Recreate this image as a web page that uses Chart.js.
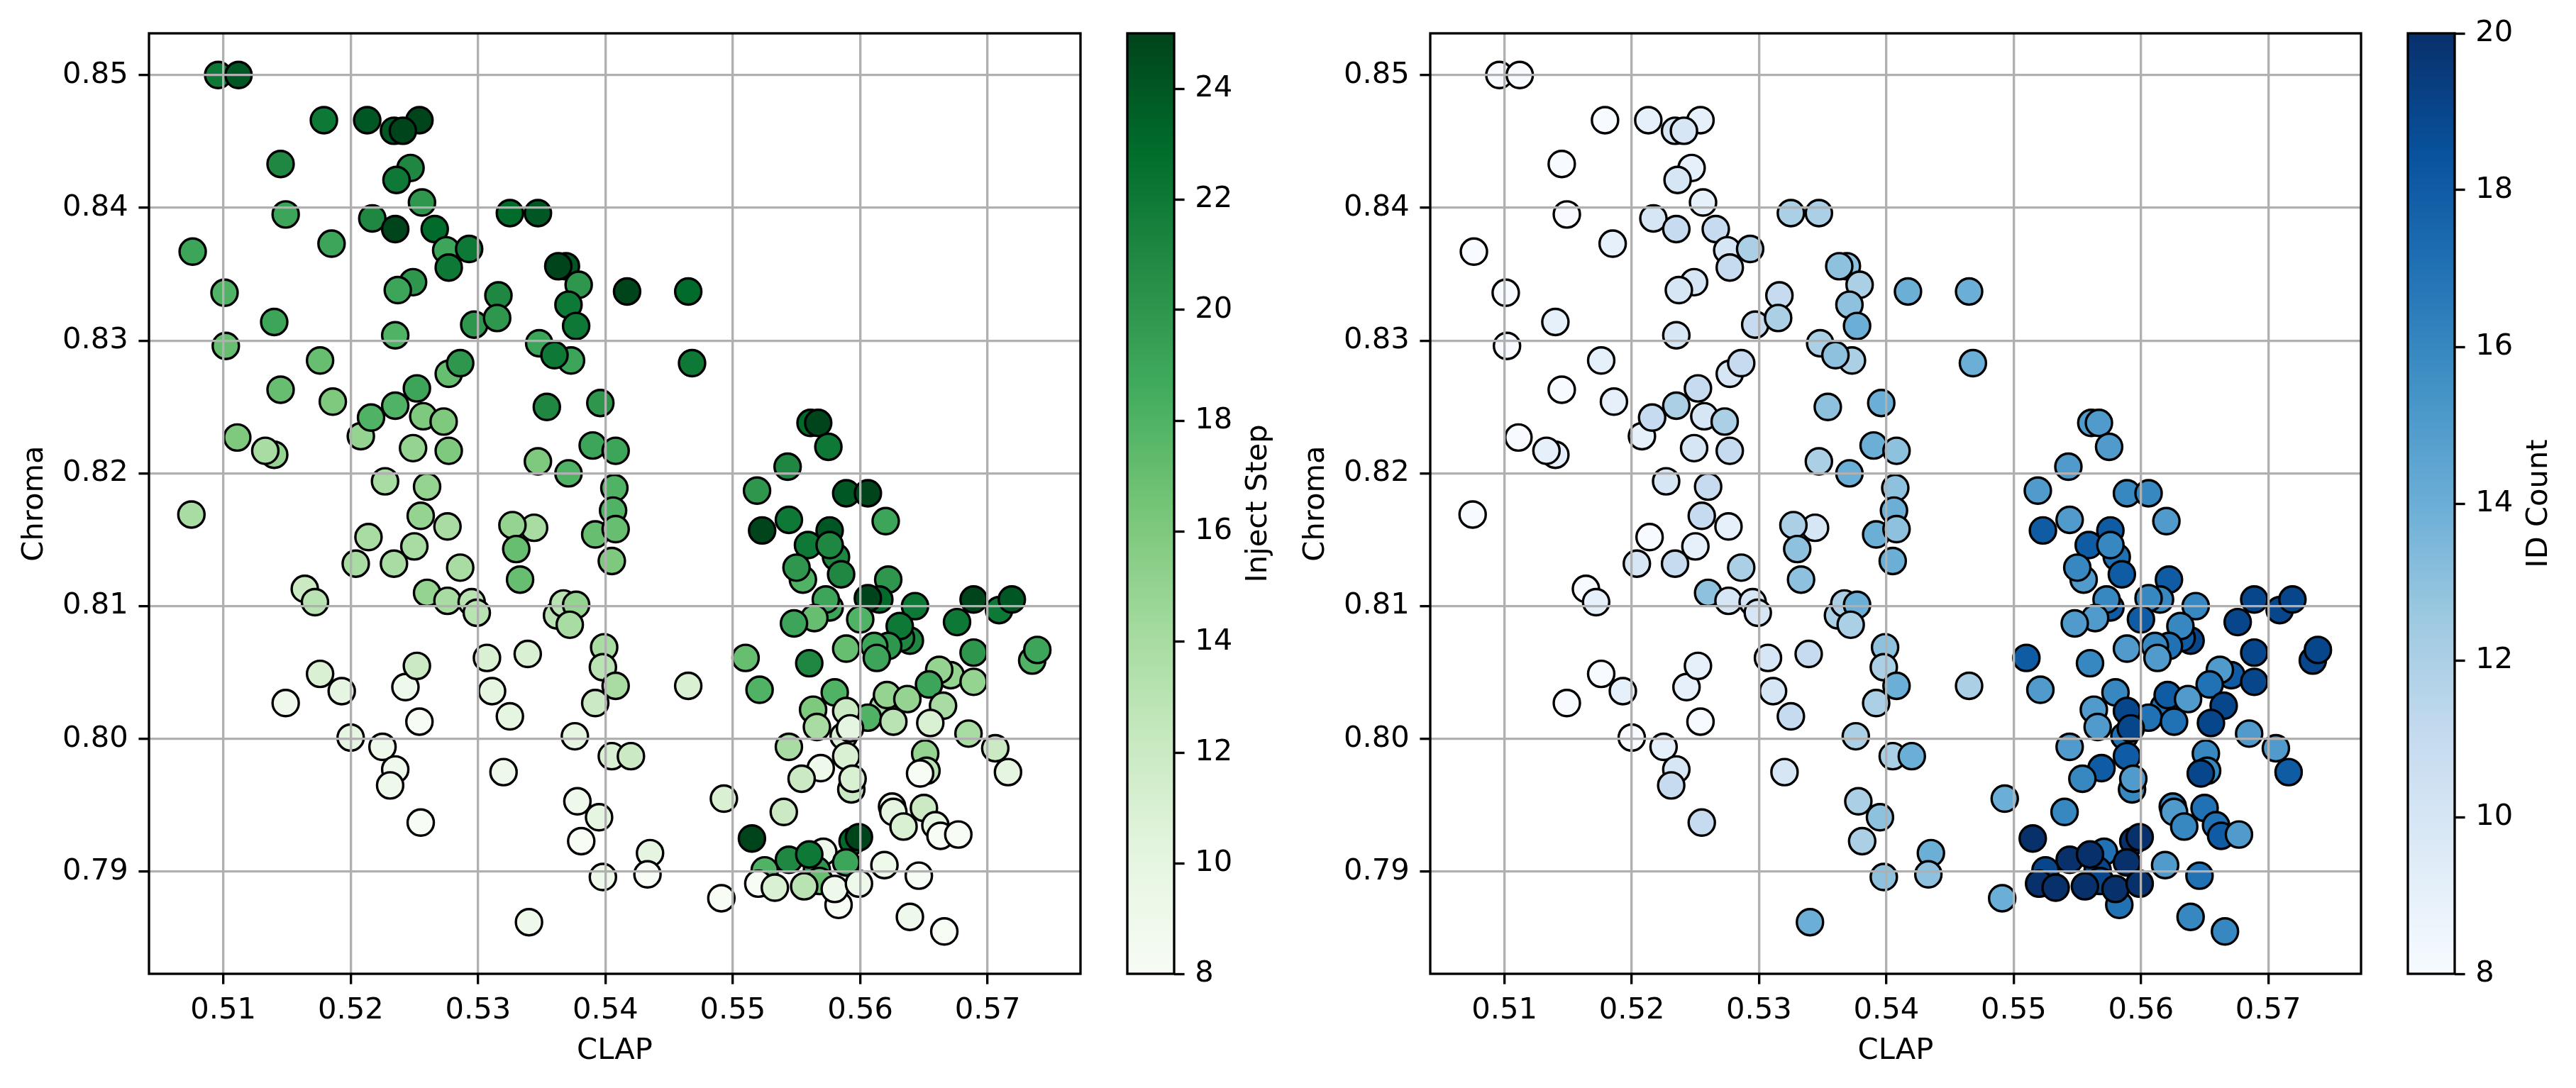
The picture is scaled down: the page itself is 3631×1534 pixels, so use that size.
<!DOCTYPE html>
<html>
<head>
    <title>CLAP vs Chroma</title>
    <style>
        body {
            margin: 0;
            background: #ffffff;
            width: 3631px;
            height: 1534px;
            overflow: hidden;
            position: relative;
        }
        .panel {
            position: absolute;
            top: 0;
            height: 1534px;
        }
    </style>
    <script src="https://cdn.jsdelivr.net/npm/chart.js"></script>
</head>
<body>
    <div class="panel" style="left:0px;width:1560px"><canvas id="injectChart" width="1560" height="1534"></canvas></div>
    <div class="panel" style="left:1560px;width:240px"><canvas id="injectBar" width="240" height="1534"></canvas></div>
    <div class="panel" style="left:1800px;width:1560px"><canvas id="idChart" width="1560" height="1534"></canvas></div>
    <div class="panel" style="left:3360px;width:271px"><canvas id="idBar" width="271" height="1534"></canvas></div>
    <script>
        // values, same point order in both panels
        const clap = [
            0.5096, 0.5112, 0.5179, 0.5213, 0.5234, 0.5254, 0.5241, 0.5145, 0.5247, 0.5236,
            0.5256, 0.5149, 0.5217, 0.5235, 0.5266, 0.5325, 0.5347, 0.5185, 0.5076, 0.5275,
            0.5293, 0.5277, 0.5369, 0.5363, 0.5379, 0.5371, 0.5377, 0.5417, 0.5465, 0.5249,
            0.5237, 0.5101, 0.5316, 0.5297, 0.5315, 0.5140, 0.5235, 0.5102, 0.5348, 0.5373,
            0.5360, 0.5468, 0.5176, 0.5277, 0.5286, 0.5145, 0.5186, 0.5252, 0.5208, 0.5216,
            0.5235, 0.5257, 0.5273, 0.5354, 0.5396, 0.5111, 0.5140, 0.5133, 0.5249, 0.5277,
            0.5347, 0.5390, 0.5371, 0.5408, 0.5407, 0.5227, 0.5260, 0.5543, 0.5519, 0.5561,
            0.5567, 0.5575, 0.5589, 0.5606,
            0.5075, 0.5255, 0.5276, 0.5214, 0.5250, 0.5204, 0.5234, 0.5286, 0.5344, 0.5327,
            0.5330, 0.5333, 0.5392, 0.5406, 0.5408, 0.5405, 0.5164, 0.5172, 0.5260, 0.5276,
            0.5295, 0.5299, 0.5362, 0.5367, 0.5377, 0.5372, 0.5399, 0.5398, 0.5408, 0.5392,
            0.5307, 0.5339, 0.5311, 0.5325, 0.5243, 0.5252, 0.5254, 0.5176, 0.5193, 0.5149,
            0.5200, 0.5225, 0.5235, 0.5231, 0.5255, 0.5320, 0.5376, 0.5405, 0.5420, 0.5378,
            0.5395, 0.5381, 0.5398, 0.5340,
            0.5620, 0.5523, 0.5544, 0.5576, 0.5559, 0.5581, 0.5576, 0.5555, 0.5550, 0.5585,
            0.5622, 0.5576, 0.5573, 0.5615, 0.5606, 0.5643, 0.5689, 0.5709, 0.5719, 0.5676,
            0.5564, 0.5548, 0.5600, 0.5639, 0.5632, 0.5631, 0.5622, 0.5611, 0.5613, 0.5589,
            0.5560, 0.5510, 0.5521, 0.5465, 0.5689, 0.5735, 0.5739, 0.5671, 0.5662, 0.5654,
            0.5689, 0.5580, 0.5618, 0.5621, 0.5637, 0.5665, 0.5563, 0.5566, 0.5606, 0.5626,
            0.5655, 0.5587, 0.5589, 0.5592, 0.5685, 0.5706, 0.5544, 0.5589, 0.5651, 0.5652,
            0.5647, 0.5716, 0.5569, 0.5554, 0.5593, 0.5594, 0.5493, 0.5540, 0.5625, 0.5650,
            0.5626, 0.5634, 0.5659, 0.5663, 0.5677, 0.5515, 0.5594, 0.5599, 0.5571, 0.5544,
            0.5566, 0.5560, 0.5589, 0.5525, 0.5568, 0.5520, 0.5533, 0.5556, 0.5583, 0.5580,
            0.5599, 0.5619, 0.5646, 0.5639, 0.5666, 0.5491, 0.5435, 0.5433
        ];
        const chroma = [
            0.8500, 0.8500, 0.8466, 0.8466, 0.8458, 0.8466, 0.8458, 0.8433, 0.8430, 0.8421,
            0.8404, 0.8395, 0.8392, 0.8384, 0.8384, 0.8396, 0.8396, 0.8373, 0.8367, 0.8368,
            0.8369, 0.8355, 0.8356, 0.8356, 0.8342, 0.8327, 0.8311, 0.8337, 0.8337, 0.8344,
            0.8338, 0.8336, 0.8334, 0.8312, 0.8317, 0.8314, 0.8304, 0.8296, 0.8298, 0.8285,
            0.8289, 0.8283, 0.8285, 0.8275, 0.8283, 0.8263, 0.8254, 0.8264, 0.8228, 0.8242,
            0.8251, 0.8243, 0.8239, 0.8250, 0.8253, 0.8227, 0.8214, 0.8217, 0.8219, 0.8217,
            0.8209, 0.8221, 0.8200, 0.8217, 0.8189, 0.8194, 0.8190, 0.8205, 0.8187, 0.8238,
            0.8238, 0.8220, 0.8185, 0.8185,
            0.8169, 0.8168, 0.8160, 0.8152, 0.8145, 0.8132, 0.8132, 0.8129, 0.8159, 0.8161,
            0.8143, 0.8120, 0.8154, 0.8172, 0.8158, 0.8134, 0.8113, 0.8103, 0.8110, 0.8104,
            0.8103, 0.8095, 0.8093, 0.8102, 0.8101, 0.8086, 0.8069, 0.8054, 0.8040, 0.8027,
            0.8061, 0.8064, 0.8036, 0.8017, 0.8039, 0.8055, 0.8013, 0.8049, 0.8036, 0.8027,
            0.8001, 0.7994, 0.7977, 0.7965, 0.7937, 0.7975, 0.8002, 0.7987, 0.7987, 0.7953,
            0.7941, 0.7923, 0.7896, 0.7862,
            0.8164, 0.8157, 0.8165, 0.8157, 0.8146, 0.8137, 0.8146, 0.8120, 0.8129, 0.8124,
            0.8120, 0.8099, 0.8105, 0.8105, 0.8106, 0.8100, 0.8105, 0.8097, 0.8105, 0.8088,
            0.8091, 0.8087, 0.8090, 0.8074, 0.8076, 0.8085, 0.8070, 0.8070, 0.8061, 0.8068,
            0.8057, 0.8061, 0.8037, 0.8040, 0.8065, 0.8059, 0.8067, 0.8048, 0.8052, 0.8041,
            0.8043, 0.8035, 0.8024, 0.8033, 0.8030, 0.8025, 0.8022, 0.8009, 0.8016, 0.8013,
            0.8012, 0.8002, 0.8021, 0.8008, 0.8004, 0.7993, 0.7994, 0.7987, 0.7989, 0.7976,
            0.7974, 0.7975, 0.7978, 0.7970, 0.7962, 0.7970, 0.7955, 0.7945, 0.7949, 0.7948,
            0.7945, 0.7934, 0.7935, 0.7927, 0.7928, 0.7925, 0.7923, 0.7926, 0.7915, 0.7909,
            0.7901, 0.7913, 0.7907, 0.7901, 0.7893, 0.7891, 0.7888, 0.7889, 0.7875, 0.7887,
            0.7891, 0.7905, 0.7897, 0.7866, 0.7855, 0.7880, 0.7914, 0.7898
        ];
        const injectStep = [
            22, 24, 22, 24, 24, 25, 25, 21, 21, 22,
            20, 19, 21, 25, 23, 23, 24, 19, 19, 19,
            22, 22, 24, 25, 20, 22, 22, 25, 23, 20,
            19, 18, 21, 20, 20, 19, 18, 17, 19, 19,
            22, 22, 17, 17, 20, 17, 16, 19, 15, 18,
            18, 16, 16, 21, 20, 16, 15, 14, 15, 16,
            16, 19, 18, 19, 18, 14, 15, 21, 20, 23,
            25, 22, 24, 25,
            14, 15, 14, 14, 14, 14, 14, 14, 14, 15,
            17, 17, 17, 18, 17, 16, 12, 13, 15, 14,
            13, 13, 13, 13, 15, 14, 14, 13, 14, 12,
            11, 11, 10, 10, 9, 12, 8, 11, 10, 9,
            10, 9, 9, 9, 8, 9, 10, 11, 12, 9,
            10, 8, 9, 9,
            19, 25, 22, 24, 22, 21, 21, 18, 20, 21,
            20, 19, 19, 23, 25, 22, 25, 22, 24, 22,
            17, 19, 18, 21, 21, 22, 20, 19, 19, 17,
            21, 17, 18, 11, 20, 18, 19, 15, 15, 19,
            15, 18, 14, 15, 15, 14, 16, 14, 18, 13,
            11, 11, 12, 10, 14, 12, 14, 11, 15, 13,
            8, 10, 9, 12, 12, 11, 11, 12, 9, 12,
            10, 11, 10, 8, 8, 25, 23, 25, 9, 21,
            20, 22, 19, 18, 17, 8, 11, 13, 8, 9,
            9, 9, 8, 9, 8, 8, 10, 8
        ];
        const idCount = [
            8, 8, 8, 9, 10, 9, 10, 8, 9, 10,
            9, 8, 10, 11, 11, 12, 12, 9, 8, 10,
            12, 11, 13, 13, 12, 13, 14, 14, 14, 10,
            10, 8, 11, 11, 12, 9, 10, 8, 12, 12,
            13, 14, 9, 10, 11, 8, 9, 11, 9, 11,
            12, 10, 12, 13, 14, 8, 9, 9, 10, 11,
            12, 14, 14, 13, 13, 10, 11, 15, 15, 15,
            15, 15, 16, 16,
            8, 11, 9, 8, 9, 10, 11, 12, 10, 12,
            13, 13, 14, 14, 13, 14, 8, 9, 13, 10,
            10, 10, 12, 12, 14, 12, 13, 12, 14, 12,
            10, 11, 10, 11, 9, 9, 8, 8, 9, 8,
            8, 9, 10, 11, 11, 10, 12, 12, 14, 12,
            13, 12, 13, 14,
            15, 18, 15, 18, 18, 17, 16, 15, 16, 18,
            18, 18, 16, 16, 16, 16, 19, 19, 19, 19,
            15, 15, 18, 19, 18, 16, 17, 16, 15, 15,
            16, 18, 15, 12, 19, 19, 19, 18, 15, 17,
            19, 16, 17, 18, 15, 19, 15, 15, 17, 17,
            19, 17, 19, 19, 15, 15, 15, 18, 16, 16,
            19, 18, 18, 16, 16, 15, 14, 16, 16, 17,
            15, 16, 17, 18, 15, 20, 20, 20, 17, 20,
            19, 20, 20, 19, 19, 20, 20, 20, 17, 20,
            20, 15, 17, 16, 16, 14, 14, 13
        ];

        const xTicks = [0.51, 0.52, 0.53, 0.54, 0.55, 0.56, 0.57];
        const yTicks = [0.79, 0.80, 0.81, 0.82, 0.83, 0.84, 0.85];
        const injectTicks = [8, 10, 12, 14, 16, 18, 20, 22, 24];
        const idTicks = [8, 10, 12, 14, 16, 18, 20];

        // matplotlib Greens / Blues anchor colours
        const greens = ['#f7fcf5', '#e5f5e0', '#c7e9c0', '#a1d99b', '#74c476', '#41ab5d', '#238b45', '#006d2c', '#00441b'];
        const blues = ['#f7fbff', '#deebf7', '#c6dbef', '#9ecae1', '#6baed6', '#4292c6', '#2171b5', '#08519c', '#08306b'];

        const FONT = { family: "'DejaVu Sans', sans-serif", size: 41.67 };
        const LW = 3.33;
        const TICK = 14.6;

        function hexToRgb(h) {
            return [parseInt(h.slice(1, 3), 16), parseInt(h.slice(3, 5), 16), parseInt(h.slice(5, 7), 16)];
        }

        function colormap(stops, t) {
            t = Math.max(0, Math.min(1, t));
            const p = t * (stops.length - 1);
            const i = Math.min(Math.floor(p), stops.length - 2);
            const f = p - i;
            const a = hexToRgb(stops[i]);
            const b = hexToRgb(stops[i + 1]);
            const c = a.map((v, k) => Math.round(v + (b[k] - v) * f));
            return `rgb(${c[0]}, ${c[1]}, ${c[2]})`;
        }

        // black box round the plot area, like the axes spines
        const framePlugin = {
            id: 'frame',
            afterDraw(chart) {
                const a = chart.chartArea;
                const ctx = chart.ctx;
                ctx.save();
                ctx.strokeStyle = '#000';
                ctx.lineWidth = LW;
                ctx.strokeRect(a.left, a.top, a.right - a.left, a.bottom - a.top);
                ctx.restore();
            }
        };

        function makeScatter(canvasId, values, stops, vmin, vmax, yAxisWidth, rightPad, yTitlePad) {
            const points = clap.map((x, i) => ({ x: x, y: chroma[i] }));
            const colors = values.map(v => colormap(stops, (v - vmin) / (vmax - vmin)));
            return new Chart(document.getElementById(canvasId), {
                type: 'scatter',
                data: {
                    datasets: [{
                        data: points,
                        pointBackgroundColor: colors,
                        pointBorderColor: '#000',
                        pointBorderWidth: 3.4,
                        pointRadius: 18.5,
                        pointHoverRadius: 18.5
                    }]
                },
                options: {
                    responsive: false,
                    animation: false,
                    devicePixelRatio: 1,
                    events: [],
                    layout: { padding: { left: 0, top: 47, right: rightPad, bottom: 0 } },
                    plugins: { legend: { display: false }, tooltip: { enabled: false } },
                    scales: {
                        x: {
                            type: 'linear',
                            min: 0.50417,
                            max: 0.57729,
                            afterBuildTicks: s => { s.ticks = xTicks.map(v => ({ value: v })); },
                            afterFit: s => { s.height = 161; },
                            grid: { color: '#b0b0b0', lineWidth: LW, z: 1, tickColor: '#000', tickLength: TICK, tickWidth: LW },
                            border: { display: false },
                            ticks: { color: '#000', font: FONT, padding: 13, maxRotation: 0, callback: v => v.toFixed(2) },
                            title: { display: true, text: 'CLAP', color: '#000', font: FONT, padding: { top: 0, bottom: 27 } }
                        },
                        y: {
                            type: 'linear',
                            min: 0.78231,
                            max: 0.85314,
                            afterBuildTicks: s => { s.ticks = yTicks.map(v => ({ value: v })); },
                            afterFit: s => { s.width = yAxisWidth; },
                            grid: { color: '#b0b0b0', lineWidth: LW, z: 1, tickColor: '#000', tickLength: TICK, tickWidth: LW },
                            border: { display: false },
                            ticks: { color: '#000', font: FONT, padding: TICK, callback: v => v.toFixed(2) },
                            title: { display: true, text: 'Chroma', color: '#000', font: FONT, padding: { top: yTitlePad, bottom: 0 } }
                        }
                    }
                },
                plugins: [framePlugin]
            });
        }

        function makeColorbar(canvasId, stops, vmin, vmax, ticks, label, leftPad, canvasWidth) {
            const barWidth = 66;
            const fillPlugin = {
                id: 'cbfill',
                beforeDatasetsDraw(chart) {
                    const a = chart.chartArea;
                    const y = chart.scales.y;
                    const ctx = chart.ctx;
                    const g = ctx.createLinearGradient(0, y.getPixelForValue(vmin), 0, y.getPixelForValue(vmax));
                    stops.forEach((c, i) => g.addColorStop(i / (stops.length - 1), c));
                    ctx.save();
                    ctx.fillStyle = g;
                    ctx.fillRect(a.left, a.top, a.right - a.left, a.bottom - a.top);
                    ctx.restore();
                },
                afterDraw(chart) {
                    // colorbar label reads bottom to top
                    const a = chart.chartArea;
                    const ctx = chart.ctx;
                    ctx.save();
                    ctx.translate(a.right + 119, (a.top + a.bottom) / 2);
                    ctx.rotate(-Math.PI / 2);
                    ctx.fillStyle = '#000';
                    ctx.font = `${FONT.size}px ${FONT.family}`;
                    ctx.textAlign = 'center';
                    ctx.textBaseline = 'middle';
                    ctx.fillText(label, 0, 0);
                    ctx.restore();
                }
            };
            return new Chart(document.getElementById(canvasId), {
                type: 'scatter',
                data: { datasets: [] },
                options: {
                    responsive: false,
                    animation: false,
                    devicePixelRatio: 1,
                    events: [],
                    layout: { padding: { left: leftPad, top: 47, right: 0, bottom: 161 } },
                    plugins: { legend: { display: false }, tooltip: { enabled: false } },
                    scales: {
                        x: { type: 'linear', display: false, min: 0, max: 1 },
                        y: {
                            type: 'linear',
                            position: 'right',
                            min: vmin,
                            max: vmax,
                            afterBuildTicks: s => { s.ticks = ticks.map(v => ({ value: v })); },
                            afterFit: s => { s.width = canvasWidth - leftPad - barWidth; },
                            grid: { drawOnChartArea: false, tickColor: '#000', tickLength: TICK, tickWidth: LW },
                            border: { display: false },
                            ticks: { color: '#000', font: FONT, padding: TICK, callback: v => String(v) }
                        }
                    }
                },
                plugins: [fillPlugin, framePlugin]
            });
        }

        makeScatter('injectChart', injectStep, greens, 8, 25, 210, 37, 24);
        makeColorbar('injectBar', greens, 8, 25, injectTicks, 'Inject Step', 29, 240);
        makeScatter('idChart', idCount, blues, 8, 20, 216, 32, 30);
        makeColorbar('idBar', blues, 8, 20, idTicks, 'ID Count', 34, 271);
    </script>
</body>
</html>
